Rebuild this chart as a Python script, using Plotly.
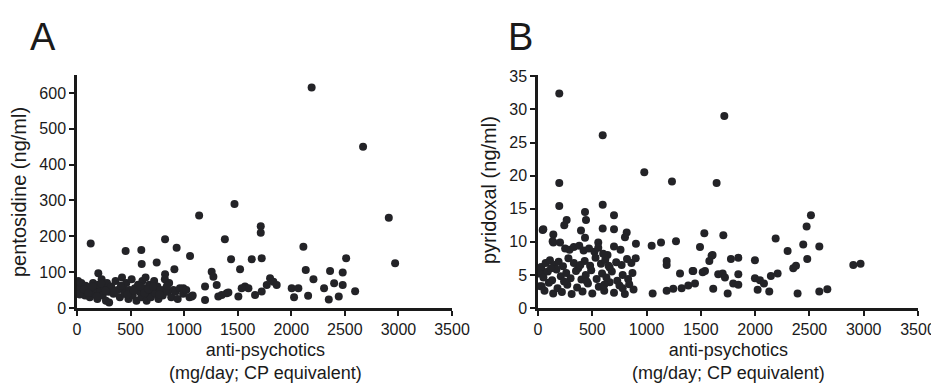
import plotly.graph_objects as go

# ---------------- Panel A: pentosidine vs anti-psychotics ----------------
a_dose = [2190, 2670, 1470, 2910, 1140, 1715, 1715, 128, 822, 930, 1380, 454, 600, 1055,
          1438, 1631, 604, 744, 909, 822, 199, 1257, 1273, 1522, 1304, 1195, 1195, 1319,
          1397, 1506, 1568, 1662, 1071, 993,
          1724, 2113, 2135, 2207, 2362, 2480, 2512, 2400, 2480, 2306, 2596, 2350, 2443,
          2969, 2157, 2004, 2066, 2026, 1802, 1833, 1864, 1771, 1724, 1600, 1537, 1413, 1351,
          10, 15, 20, 30, 40, 50, 60, 75, 80, 90,
          110, 120, 135, 150, 160, 175, 190, 200, 215, 230, 240, 255, 270, 280, 295, 300,
          320, 340, 360, 380, 400, 420, 430, 445, 460, 480, 490,
          510, 520, 540, 555, 570, 585, 600, 610, 625, 640, 650, 660, 675, 690, 700,
          720, 735, 750, 760, 780, 800, 820, 830, 845, 860, 880, 900,
          920, 940, 960, 990, 1020, 1050, 1080,
          25, 65, 105, 145, 185, 225, 265, 350, 410, 470, 530, 590, 630, 665, 710, 770, 840]
a_pento = [615, 450, 290, 252, 258, 228, 210, 180, 192, 168, 192, 159, 162, 145,
           136, 136, 123, 127, 108, 94, 97, 101, 87, 108, 64, 60, 22, 32,
           41, 32, 60, 36, 32, 55,
           139, 171, 106, 80, 103, 99, 139, 69, 64, 55, 47, 24, 32,
           125, 34, 55, 55, 30, 83, 73, 64, 64, 46, 55, 55, 43, 36,
           75, 60, 45, 55, 70, 40, 50, 35, 62, 45,
           58, 30, 48, 70, 40, 55, 25, 65, 45, 80, 35, 55, 20, 70, 45, 15,
           60, 40, 75, 50, 30, 85, 55, 40, 70, 25, 50,
           80, 35, 55, 20, 65, 45, 30, 75, 55, 85, 20, 40, 65, 30, 50,
           75, 40, 60, 25, 50, 35, 80, 55, 45, 70, 30, 50,
           45, 25, 55, 40, 50, 30, 35,
           38, 52, 42, 60, 33, 68, 48, 45, 62, 38, 48, 60, 42, 52, 60, 38, 62]

# ---------------- Panel B: pyridoxal vs anti-psychotics ----------------
b_dose = [196, 596, 979, 1234, 196, 196, 596, 700, 433, 442, 264, 242, 396, 596, 700, 817,
          43, 141, 1532, 1716, 1645, 2514, 2474, 1707, 2189,
          49, 801, 135, 141, 203, 433, 555, 555, 902, 1047, 1133, 1271, 1492, 1599, 1578,
          1185, 1185, 1308, 1424, 1517, 1660, 1056, 1185, 1246, 1323, 1384, 1446, 1614,
          2591, 2443, 2299, 2480, 1608, 1777, 1845, 1998, 2351, 2376, 1701, 1722, 1845,
          2145, 2207, 1998, 2044, 2081, 1798, 1845, 2130, 2023, 1747, 2391, 2591, 2665,
          2904, 2971, 1430, 1538, 34, 34,
          250, 290, 330, 380, 420, 470, 520, 640, 700, 760,
          30, 70, 110, 150, 190, 230, 280, 330, 370, 430, 480, 530, 580, 620, 660, 720,
          770, 820, 860, 900,
          10, 50, 90, 130, 170, 210, 260, 300, 350, 400, 440, 490, 540, 590, 630, 680,
          730, 780, 830, 870,
          20, 60, 100, 140, 180, 220, 270, 310, 360, 410, 460, 500, 560, 610, 660, 700,
          750, 800, 840, 880,
          120, 240, 390, 450, 600, 610, 650, 780]
b_pyri = [32.4, 26.1, 20.5, 19.1, 18.9, 15.4, 15.6, 14.0, 14.5, 13.3, 13.3, 12.5, 11.7, 12.0, 11.9, 11.4,
          11.8, 11.1, 11.3, 29.0, 18.9, 14.0, 12.3, 11.0, 10.5,
          11.9, 10.7, 10.1, 9.9, 9.9, 10.6, 9.9, 9.1, 9.7, 9.4, 9.9, 10.1, 9.2, 7.9, 7.1,
          7.1, 6.5, 5.2, 5.6, 5.4, 5.1, 2.2, 2.6, 2.9, 3.0, 3.4, 3.7, 2.9,
          9.3, 9.6, 8.6, 7.4, 8.0, 7.4, 7.6, 7.2, 6.0, 6.4, 5.2, 4.6, 5.1,
          4.85, 5.2, 4.5, 4.2, 3.7, 3.7, 3.5, 2.5, 2.75, 2.2, 2.2, 2.5, 2.85,
          6.5, 6.7, 5.6, 5.6, 5.5, 3.3,
          9.0, 8.8, 9.2, 9.4, 8.7, 9.0, 8.5, 8.0, 9.3, 8.8,
          6.2, 6.8, 7.2, 6.5, 7.0, 6.3, 7.5, 6.8, 6.0, 7.1, 6.4, 7.6, 6.7, 7.3, 6.1, 6.9,
          6.5, 7.4, 6.8, 7.5,
          5.2, 4.6, 5.5, 4.2, 5.8, 4.8, 5.3, 4.5, 5.6, 4.3, 5.0, 5.7, 4.4, 5.2, 4.6, 5.5,
          4.1, 5.0, 4.4, 5.3,
          3.3, 2.6, 3.8, 2.2, 3.0, 2.4, 3.5, 2.1, 3.1, 2.5, 3.7, 2.2, 3.2, 2.6, 3.9, 2.3,
          3.4, 2.1, 3.6, 2.8,
          6.0, 4.0, 6.5, 4.0, 8.2, 3.5, 6.4, 3.0]

x_ticks = [0, 500, 1000, 1500, 2000, 2500, 3000, 3500]
a_y_ticks = [0, 100, 200, 300, 400, 500, 600]
b_y_ticks = [0, 5, 10, 15, 20, 25, 30, 35]

DOT = "#232327"
FONT = "Liberation Sans, Arial, sans-serif"

# the page body has an 8px default margin: the figure is drawn 8px right/down
OFF = 8
W, H = 939 - OFF, 387 - OFF


def px(xp):
    return (xp - OFF) / W


def py(yp):
    return 1 - (yp - OFF) / H


fig = go.Figure()
fig.add_trace(go.Scatter(x=a_dose, y=a_pento, mode="markers", xaxis="x", yaxis="y",
                         marker=dict(size=8, color=DOT), showlegend=False))
fig.add_trace(go.Scatter(x=b_dose, y=b_pyri, mode="markers", xaxis="x2", yaxis="y2",
                         marker=dict(size=8, color=DOT), showlegend=False))

ax_common = dict(showline=True, linecolor="#1a1a1a", linewidth=2.5, ticks="outside",
                 ticklen=5, tickwidth=2, tickcolor="#1a1a1a", showgrid=False, zeroline=False,
                 automargin=False,
                 tickfont=dict(family=FONT, size=16, color="#1a1a1a"))

ydom = [py(308), py(75)]
fig.update_layout(
    template="none",
    width=W, height=H,
    margin=dict(l=0, r=0, t=0, b=0, pad=0, autoexpand=False),
    paper_bgcolor="white", plot_bgcolor="white",
    xaxis=dict(domain=[px(77), px(452)], range=[0, 3500], tickvals=x_ticks,
               anchor="y", **ax_common),
    yaxis=dict(domain=ydom, range=[0, 650], tickvals=a_y_ticks, anchor="x", **ax_common),
    xaxis2=dict(domain=[px(538), px(918)], range=[0, 3500], tickvals=x_ticks,
                anchor="y2", **ax_common),
    yaxis2=dict(domain=ydom, range=[0, 35.2], tickvals=b_y_ticks, anchor="x2", **ax_common),
)

xt_font = dict(family=FONT, size=18, color="#1a1a1a")
yt_font = dict(family=FONT, size=20, color="#1a1a1a")
anns = [
    dict(text="A", x=px(43), y=py(37), font=dict(family=FONT, size=38, color="#1a1a1a")),
    dict(text="B", x=px(520), y=py(37), font=dict(family=FONT, size=38, color="#1a1a1a")),
    dict(text="pentosidine (ng/ml)", x=px(19), y=py(192), textangle=-90, font=yt_font),
    dict(text="pyridoxal (ng/ml)", x=px(489), y=py(190), textangle=-90, font=yt_font),
    dict(text="anti-psychotics<br>(mg/day; CP equivalent)", x=px(265), y=py(361), font=xt_font),
    dict(text="anti-psychotics<br>(mg/day; CP equivalent)", x=px(728), y=py(361), font=xt_font),
]
for a in anns:
    fig.add_annotation(xref="paper", yref="paper", showarrow=False, xanchor="center",
                       yanchor="middle", **a)

fig.write_html("out.html")
